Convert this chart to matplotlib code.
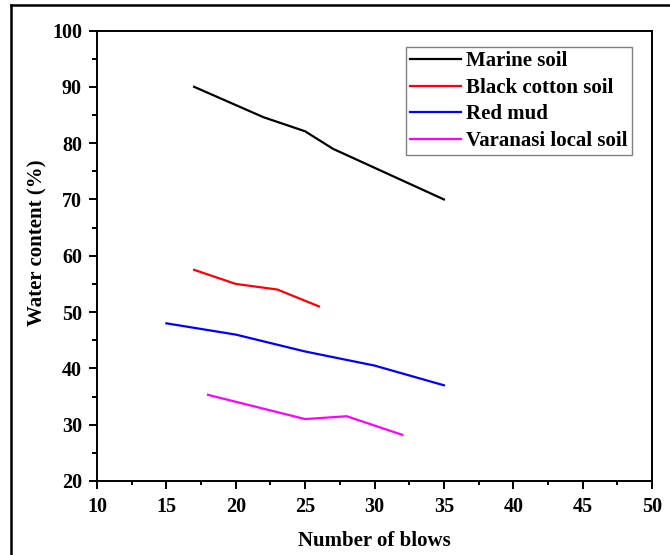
import matplotlib
matplotlib.use("Agg")
import matplotlib.pyplot as plt
from matplotlib.lines import Line2D
from matplotlib.ticker import MultipleLocator

plt.rcParams['font.family'] = ['Liberation Serif', 'DejaVu Serif']
plt.rcParams['font.weight'] = 'bold'

marine_x = [17, 22, 25, 27, 35]
marine_y = [90, 84.6, 82.1, 79.0, 70.0]
black_x = [17, 20, 23, 26]
black_y = [57.5, 55.0, 54.0, 51.0]
red_x = [15, 20, 25, 30, 35]
red_y = [48.0, 46.0, 43.0, 40.5, 37.0]
var_x = [18, 25, 28, 32]
var_y = [35.3, 31.0, 31.5, 28.2]

labels = ["Marine soil", "Black cotton soil", "Red mud", "Varanasi local soil"]
colors = ["black", "red", "blue", "magenta"]

fig = plt.figure(figsize=(6.7, 5.55), dpi=100)
ax = fig.add_axes([97/670, (555-481)/555, (652-97)/670, (481-30.5)/555])

for xs, ys, lab, c in zip([marine_x, black_x, red_x, var_x],
                          [marine_y, black_y, red_y, var_y], labels, colors):
    ax.plot(xs, ys, color=c, lw=1.6, label=lab)

ax.set_xlim(10, 50)
ax.set_ylim(20, 100)
ax.xaxis.set_major_locator(MultipleLocator(5))
ax.xaxis.set_minor_locator(MultipleLocator(2.5))
ax.yaxis.set_major_locator(MultipleLocator(10))
ax.yaxis.set_minor_locator(MultipleLocator(5))
ax.tick_params(which='both', direction='out', top=False, right=False, width=1.4,
               labelsize=14.5)
ax.tick_params(axis='x', which='major', length=5.8, pad=5.9)
ax.tick_params(axis='x', which='minor', length=3)
ax.tick_params(axis='y', which='major', length=5.8, pad=5)
ax.tick_params(axis='y', which='minor', length=3.6)
for s in ax.spines.values():
    s.set_linewidth(1.4)
for t in ax.get_xticklabels() + ax.get_yticklabels():
    t.set_fontweight('bold')

ax.set_xlabel("Number of blows", fontsize=15, fontweight='bold')
ax.set_ylabel("Water content (%)", fontsize=15, fontweight='bold')
ax.xaxis.set_label_coords(0.5, (481-531)/450.5)
ax.yaxis.set_label_coords((47-97)/555, (481-243)/450.5)

leg = ax.legend(loc='upper right', bbox_to_anchor=((632-97)/555, (481-47)/450.5),
                fancybox=False, framealpha=1, edgecolor='#808080',
                prop={'size': 15, 'weight': 'bold'}, handlelength=2.45,
                handletextpad=0.25, labelspacing=0.32, borderpad=0.2,
                borderaxespad=0)
leg.get_frame().set_linewidth(1.0)

# outer frame (only left and top edges visible)
fig.add_artist(Line2D([10.5/670, 10.5/670], [0, 1-5/555], transform=fig.transFigure,
                      color='black', lw=1.8))
fig.add_artist(Line2D([10.5/670, 1], [1-5/555, 1-5/555], transform=fig.transFigure,
                      color='black', lw=1.8))

fig.savefig("out.png", dpi=100)
